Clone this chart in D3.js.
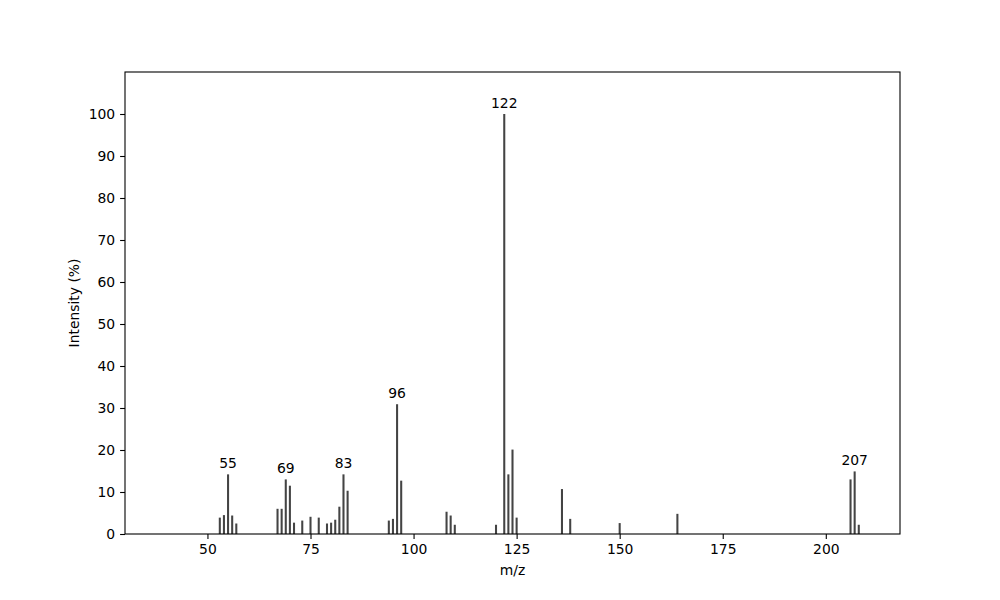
<!DOCTYPE html>
<html>
<head>
<meta charset="utf-8">
<script src="https://cdn.jsdelivr.net/npm/d3@7"></script>
<style>
  body { margin: 0; background: #fff; }
  svg { display: block; font-family: "DejaVu Sans", sans-serif; }
</style>
</head>
<body>
<svg id="chart" width="1000" height="600"></svg>
<script>
const mz = [53, 54, 55, 56, 57, 67, 68, 69, 70, 71, 73, 75, 77, 79, 80, 81, 82, 83, 84,
            94, 95, 96, 97, 108, 109, 110, 120, 122, 123, 124, 125, 136, 138, 150, 164, 206, 207, 208];
const intensity = [3.9, 4.5, 14.2, 4.4, 2.5, 6.0, 6.0, 13.0, 11.5, 2.7, 3.2, 4.1, 3.9, 2.5, 2.7, 3.4, 6.5, 14.2, 10.3,
                   3.2, 3.6, 30.9, 12.7, 5.3, 4.4, 2.2, 2.2, 100, 14.2, 20.1, 3.9, 10.7, 3.6, 2.6, 4.8, 13.0, 14.9, 2.2];
const labeledPeaks = [55, 69, 83, 96, 122, 207];
const xTicks = [50, 75, 100, 125, 150, 175, 200];
const yTicks = [0, 10, 20, 30, 40, 50, 60, 70, 80, 90, 100];
const xDomain = [30, 218];
const yDomain = [0, 110];

const margin = {left: 125, right: 100, top: 72, bottom: 66};
const W = 1000, H = 600;
const svg = d3.select("#chart");
const x = d3.scaleLinear().domain(xDomain).range([margin.left, W - margin.right]);
const y = d3.scaleLinear().domain(yDomain).range([H - margin.bottom, margin.top]);

const data = mz.map((m, i) => ({m, v: intensity[i]}));
const barW = x(0.5) - x(0);

svg.append("g").selectAll("rect").data(data).join("rect")
  .attr("x", d => x(d.m) - barW / 2)
  .attr("width", barW)
  .attr("y", d => y(d.v))
  .attr("height", d => y(0) - y(d.v))
  .attr("fill", "#444444");

svg.append("g").selectAll("text").data(data.filter(d => labeledPeaks.includes(d.m))).join("text")
  .attr("x", d => x(d.m))
  .attr("y", d => y(d.v) - 6)
  .attr("text-anchor", "middle")
  .attr("font-size", "13.9px")
  .attr("fill", "#000")
  .text(d => d.m);

const fontSize = "13.9px";
const xAxis = svg.append("g")
  .attr("transform", `translate(0,${H - margin.bottom})`)
  .call(d3.axisBottom(x).tickValues(xTicks).tickSize(4.9).tickPadding(4.9).tickFormat(d3.format("d")));
const yAxis = svg.append("g")
  .attr("transform", `translate(${margin.left},0)`)
  .call(d3.axisLeft(y).tickValues(yTicks).tickSize(4.9).tickPadding(4.9).tickFormat(d3.format("d")));
[xAxis, yAxis].forEach(a => {
  a.select(".domain").remove();
  a.selectAll(".tick line").attr("stroke", "#000").attr("stroke-width", 1.1);
  a.selectAll(".tick text").attr("font-size", fontSize).attr("font-family", "DejaVu Sans").attr("fill", "#000");
});

svg.append("rect")
  .attr("x", margin.left).attr("y", margin.top)
  .attr("width", W - margin.left - margin.right)
  .attr("height", H - margin.top - margin.bottom)
  .attr("fill", "none").attr("stroke", "#000").attr("stroke-width", 1.1);

svg.append("text")
  .attr("x", (margin.left + W - margin.right) / 2)
  .attr("y", 575)
  .attr("text-anchor", "middle")
  .attr("font-size", fontSize)
  .text("m/z");

svg.append("text")
  .attr("transform", `translate(79,${(margin.top + H - margin.bottom) / 2}) rotate(-90)`)
  .attr("text-anchor", "middle")
  .attr("font-size", fontSize)
  .text("Intensity (%)");
</script>
</body>
</html>
